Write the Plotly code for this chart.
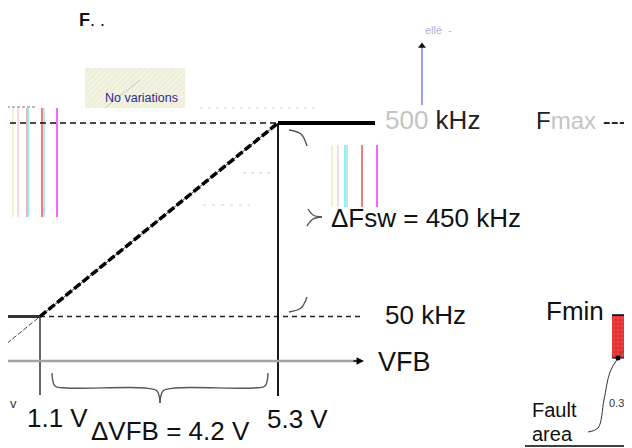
import plotly.graph_objects as go

# ---------------- data ----------------
vfb_knees = [1.1, 5.3]          # V   (start / end of linear range)
fsw_knees = [50, 500]           # kHz (Fmin / Fmax)
delta_vfb = 4.2                 # V
delta_fsw = 450                 # kHz
vfb_labels = ["1.1 V", "5.3 V"]
fsw_labels = ["50 kHz", "500 kHz"]

# ---------------- scale set-up (pixel frame of the picture) ----------------
OFF = 8                          # page body margin
W, H = 632 - OFF, 448 - OFF
X0_PX, X1_PX = 40, 278
Y0_PX, Y1_PX = 316.5, 123
kx = (X1_PX - X0_PX) / (vfb_knees[1] - vfb_knees[0])
ky = (Y0_PX - Y1_PX) / (fsw_knees[1] - fsw_knees[0])
slope = (fsw_knees[1] - fsw_knees[0]) / (vfb_knees[1] - vfb_knees[0])


def V(px):
    return vfb_knees[0] + (px - X0_PX) / kx


def F(py):
    return fsw_knees[0] - (py - Y0_PX) / ky


xr = [V(OFF), V(632)]
yr = [F(448), F(OFF)]

FONT = "Liberation Sans, Arial, sans-serif"
fig = go.Figure()


def line(xs, ys, color="#000", width=1.0, dash="solid", shape="linear"):
    fig.add_trace(go.Scatter(x=xs, y=ys, mode="lines", hoverinfo="skip",
                             line=dict(color=color, width=width, dash=dash, shape=shape),
                             showlegend=False))


def pline(pts, color="#000", width=1.0, dash="solid"):
    line([V(p[0]) for p in pts], [F(p[1]) for p in pts], color, width, dash, "spline")


# "No variations" box
bx = [85, 185, 185, 85, 85]
by = [68, 68, 108, 108, 68]
fig.add_trace(go.Scatter(x=[V(a) for a in bx], y=[F(b) for b in by], mode="lines",
                         fill="toself", line=dict(width=0), hoverinfo="skip",
                         fillcolor="#f1f1de",
                         fillpattern=dict(shape="/", fgcolor="#e2e2c4", bgcolor="#f3f3e4", size=4, solidity=0.3),
                         showlegend=False))
line([V(105), V(140)], [F(108), F(80)], "#c8c8c8", 1)

# colour artefact stripes
for xs, cols, y0, y1 in [
    ([13, 18, 27, 28, 42, 44, 57], ["#f3eebb", "#f4d4d4", "#f2a0a0", "#70f0f0", "#f05a5a", "#a8e4e4", "#ff3cff"], 108, 217),
    ([332, 338, 345, 347, 362, 377], ["#f3eebb", "#f4d4d4", "#70f0f0", "#a8e4e4", "#f05a5a", "#ff3cff"], 145, 207),
]:
    for x, c in zip(xs, cols):
        line([V(x), V(x)], [F(y0), F(y1)], c, 1.6)

# faint dashed remnants
line([V(7), V(37)], [F(107), F(107)], "#777", 1, "3px,2px")
line([V(243), V(275)], [F(173), F(173)], "#f0b0c0", 1, "3px,5px")
line([V(203), V(250)], [F(205), F(205)], "#e8c0e8", 1, "3px,6px")
line([V(200), V(315)], [F(108), F(108)], "#c8c8f0", 1, "2px,6px")

# reference levels
line([V(10), vfb_knees[1]], [fsw_knees[1]] * 2, "#111", 1.5, "6px,4px")
line([vfb_knees[0], V(360)], [fsw_knees[0]] * 2, "#222", 1.3, "5px,4px")

# extension of slope below Fmin
xe = V(7)
line([xe, vfb_knees[0]], [fsw_knees[0] - (vfb_knees[0] - xe) * slope, fsw_knees[0]], "#444", 1, "5px,2px")

# verticals at knees
line([vfb_knees[0]] * 2, [fsw_knees[0], F(395)], "#333", 1.5)
line([vfb_knees[1]] * 2, [fsw_knees[1], F(396)], "#000", 1.8)

# VFB axis
line([V(7), V(356)], [F(361)] * 2, "#a3a3a3", 2.5)
fig.add_annotation(x=V(364), y=F(361), ax=V(352), ay=F(361), axref="x", ayref="y",
                   xref="x", yref="y", text="", showarrow=True, arrowhead=2,
                   arrowsize=1, arrowwidth=1.5, arrowcolor="#000")

# the transfer curve
line([V(7), vfb_knees[0]], [fsw_knees[0]] * 2, "#333", 3)
line([vfb_knees[1], V(375)], [fsw_knees[1]] * 2, "#000", 4)
line(vfb_knees, fsw_knees, "#444", 1)
line(vfb_knees, fsw_knees, "#000", 3.5, "8px,3px")

# upward arrow
line([V(422), V(422)], [F(105), F(47)], "#9c9cf0", 2)
fig.add_trace(go.Scatter(x=[V(422)], y=[F(46)], mode="markers", hoverinfo="skip",
                         marker=dict(symbol="triangle-up", size=7, color="#111"), showlegend=False))

# braces
pline([(52, 373), (55, 386), (67, 388), (145, 388), (157, 391), (160, 403)], "#555", 1.4)
pline([(160, 403), (163, 391), (175, 388), (253, 388), (265, 386), (268, 373)], "#555", 1.4)
pline([(289, 130), (301, 134), (307, 146)], "#555", 1.4)
pline([(289, 312), (301, 308), (307, 297)], "#555", 1.4)
pline([(308, 209), (313, 215), (322, 217)], "#555", 1.4)
pline([(322, 217), (313, 219), (307, 226)], "#555", 1.4)

# Fmin / fault inset
rx = [612, 626, 626, 612, 612]
ry = [315, 315, 358, 358, 315]
fig.add_trace(go.Scatter(x=[V(a) for a in rx], y=[F(b) for b in ry], mode="lines",
                         fill="toself", line=dict(width=0), hoverinfo="skip",
                         fillcolor="#e83030",
                         fillpattern=dict(shape="+", fgcolor="#f59a9a", bgcolor="#e52a2a", size=4, solidity=0.25),
                         showlegend=False))
line([V(612), V(632)], [F(315)] * 2, "#000", 1.5)
line([V(612), V(632)], [F(358)] * 2, "#000", 1)
line([V(626.5), V(626.5)], [F(358), F(400)], "#000", 1.5)
line([V(618), V(632)], [F(358), F(338)], "#555", 1)
pline([(588, 432), (598, 428), (604, 400), (610, 372), (618, 358)], "#333", 1)
fig.add_trace(go.Scatter(x=[V(618)], y=[F(358)], mode="markers", hoverinfo="skip",
                         marker=dict(size=5, color="#000"), showlegend=False))
line([V(525), V(632)], [F(446)] * 2, "#000", 1.5)


# ---------------- texts ----------------
def txt(s, x, y, size, color="#111", anchor="left"):
    fig.add_annotation(x=V(x), y=F(y), xref="x", yref="y", text=s, showarrow=False,
                       xanchor=anchor, yanchor="middle", borderpad=0,
                       font=dict(family=FONT, size=size, color=color))


txt("<b>F</b>. .", 78, 20, 18, "#111")
txt("No variations", 141, 98, 12.5, "#2b2b90", "center")
txt("ellé  -", 424, 30, 11, "#b4b4d8")
txt("<span style='color:#c4c4c4'>" + fsw_labels[1].split(" ")[0] + "</span> kHz", 384, 120, 26, "#222")
txt("F<span style='color:#c4c4c4'>max</span> ---", 535, 120, 24, "#222")
txt(f"ΔFsw = {delta_fsw} kHz", 330, 218, 26)
txt(fsw_labels[0], 384, 315, 26)
txt("VFB", 377, 362, 27)
txt("Fmin", 545, 311, 26)
txt(vfb_labels[0], 26, 418, 26)
txt(f"ΔVFB = {delta_vfb} V", 90, 431, 26)
txt(vfb_labels[1], 266, 419, 26)
txt("v", 9, 403, 13, "#333")
txt("Fault", 531, 410, 20)
txt("area", 531, 434, 20)
txt("0.3", 608, 403, 11, "#333")

fig.update_layout(
    width=W, height=H, margin=dict(l=0, r=0, t=0, b=0),
    paper_bgcolor="#fff", plot_bgcolor="#fff", showlegend=False,
    xaxis=dict(range=xr, visible=False, fixedrange=True),
    yaxis=dict(range=yr, visible=False, fixedrange=True),
)
fig.write_html("out.html")
